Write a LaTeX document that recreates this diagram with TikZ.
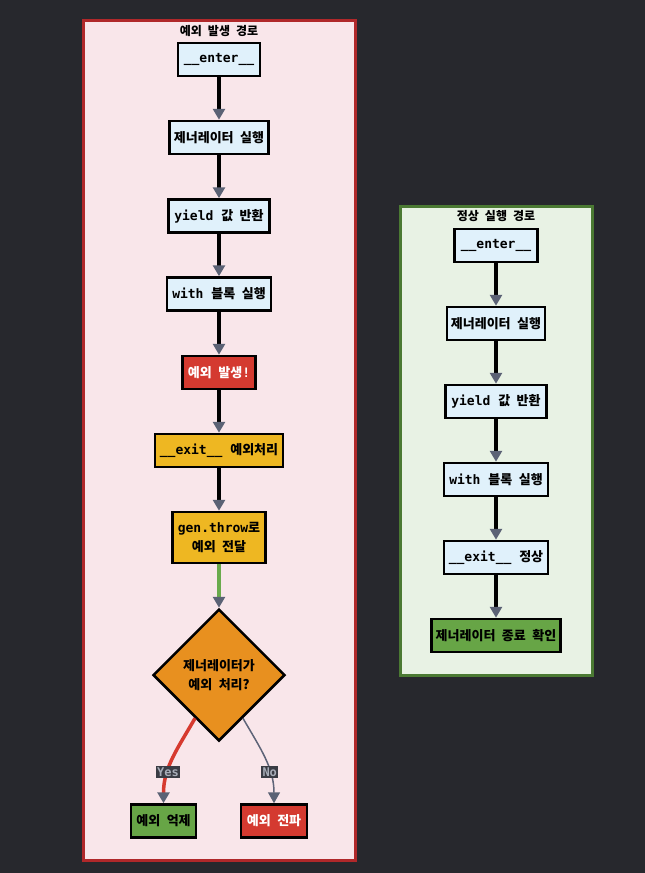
\documentclass[tikz,border=0pt]{standalone}
\usepackage{fontspec}
\setmainfont{DejaVu Sans Mono}
\newfontfamily\kr{Noto Sans CJK KR}
\newcommand\ks{\hspace{0.5em}}
\usetikzlibrary{arrows.meta,shapes.geometric}
\definecolor{bgc}{HTML}{27282D}
\definecolor{pinkfill}{HTML}{F9E6EA}
\definecolor{redborder}{HTML}{B0282A}
\definecolor{greenfill}{HTML}{E8F2E4}
\definecolor{greenborder}{HTML}{4B7A33}
\definecolor{nodeblue}{HTML}{E0F1FB}
\definecolor{nodered}{HTML}{D43A30}
\definecolor{nodegold}{HTML}{EEB722}
\definecolor{nodeorange}{HTML}{E8901F}
\definecolor{nodegreen}{HTML}{67A546}
\definecolor{arrowgray}{HTML}{5B6275}
\definecolor{edgegreen}{HTML}{6AAA4C}
\definecolor{yesred}{HTML}{D63A2F}
\definecolor{nogray}{HTML}{5E6478}
\definecolor{lblbg}{HTML}{3A3C44}
\definecolor{lbltext}{HTML}{A8ADB8}
\tikzset{
  box/.style={draw=black, line width=2.5pt, font=\bfseries\fontsize{13}{16}\selectfont, minimum height=33pt, inner xsep=4pt, align=center},
  bluebox/.style={box, fill=nodeblue},
  redbox/.style={box, fill=nodered, text=white},
  goldbox/.style={box, fill=nodegold},
  greenbox/.style={box, fill=nodegreen},
  cluster/.style={line width=3pt},
  ctitle/.style={font=\kr\bfseries\fontsize{12}{14}\selectfont},
  edge/.style={line width=3.5pt, -{Triangle[length=11pt,width=12pt,color=arrowgray]}},
  lbl/.style={fill=lblbg, text=lbltext, font=\bfseries\fontsize{12}{14}\selectfont, inner sep=1.5pt}
}
\begin{document}
\begin{tikzpicture}[x=1pt,y=-1pt]
\useasboundingbox (0,0) rectangle (645,873);
\fill[bgc] (0,0) rectangle (645,873);
% clusters
\draw[cluster, draw=redborder, fill=pinkfill] (83,20) rectangle (355,860);
\draw[cluster, draw=greenborder, fill=greenfill] (400,206) rectangle (592,675);
\node[ctitle] (t1) at (219,31) {예외\ks 발생\ks 경로};
\node[ctitle] (t2) at (496,216) {정상\ks 실행\ks 경로};
% left nodes
\node[bluebox, minimum width=82pt] (a1) at (219,59.5) {\_\_enter\_\_};
\node[bluebox, minimum width=99pt] (a2) at (219,137.5) {\kr 제너레이터\ks 실행};
\node[bluebox, minimum width=101pt] (a3) at (219,216) {yield {\kr 값\ks 반환}};
\node[bluebox, minimum width=104pt] (a4) at (219,294) {with {\kr 블록\ks 실행}};
\node[redbox, minimum width=73pt] (a5) at (219,372.5) {{\kr 예외\ks 발생}!};
\node[goldbox, minimum width=128pt] (a6) at (219,450.5) {\_\_exit\_\_ {\kr 예외처리}};
\node[goldbox, minimum width=93pt, minimum height=51pt] (a7) at (219,537.5) {gen.throw{\kr 로}\\[3pt]{\kr 예외\ks 전달}};
\node[diamond, draw=black, line width=2.5pt, fill=nodeorange, minimum width=132pt, minimum height=132pt, inner sep=0pt, align=center, font=\kr\bfseries\fontsize{13}{19}\selectfont] (d) at (219,675) {제너레이터가\\예외\ks 처리?};
\node[greenbox, minimum width=65pt] (s1) at (163.5,821) {\kr 예외\ks 억제};
\node[redbox, minimum width=66pt] (s2) at (274,821) {\kr 예외\ks 전파};
% left edges
\draw[edge] (a1) -- (a2);
\draw[edge] (a2) -- (a3);
\draw[edge] (a3) -- (a4);
\draw[edge] (a4) -- (a5);
\draw[edge] (a5) -- (a6);
\draw[edge] (a6) -- (a7);
\draw[edge, draw=edgegreen] (a7) -- (d);
\draw[edge, draw=yesred] (d.241) to[out=240,in=90] node[lbl, pos=0.66] (ly) {Yes} (s1.north);
\draw[edge, draw=nogray, line width=1.5pt] (d.299) to[out=300,in=90] node[lbl, pos=0.66] (ln) {No} (s2.north);
% right nodes
\node[bluebox, minimum width=83pt] (b1) at (496,245.5) {\_\_enter\_\_};
\node[bluebox, minimum width=98pt] (b2) at (496,323.5) {\kr 제너레이터\ks 실행};
\node[bluebox, minimum width=101pt] (b3) at (496,401.5) {yield {\kr 값\ks 반환}};
\node[bluebox, minimum width=104pt] (b4) at (496,479.5) {with {\kr 블록\ks 실행}};
\node[bluebox, minimum width=104pt] (b5) at (496,557.5) {\_\_exit\_\_ {\kr 정상}};
\node[greenbox, minimum width=128pt] (b6) at (496,635.5) {\kr 제너레이터\ks 종료\ks 확인};
\draw[edge] (b1) -- (b2);
\draw[edge] (b2) -- (b3);
\draw[edge] (b3) -- (b4);
\draw[edge] (b4) -- (b5);
\draw[edge] (b5) -- (b6);
\end{tikzpicture}
\end{document}
